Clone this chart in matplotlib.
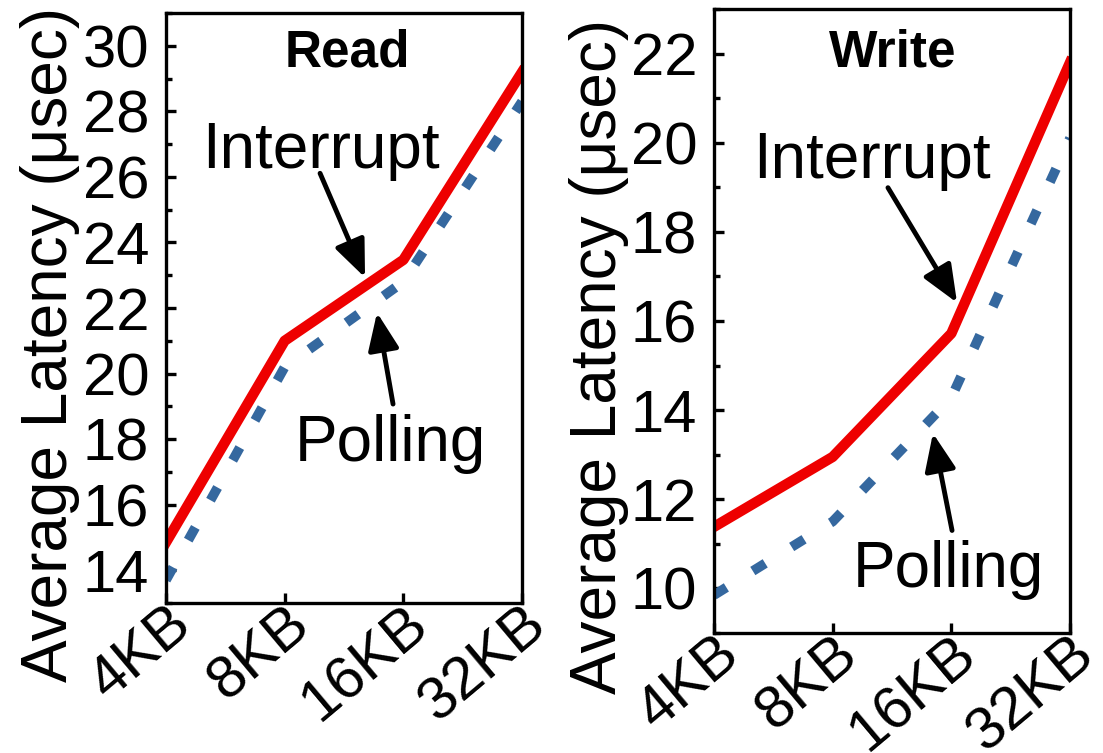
import matplotlib
matplotlib.use("Agg")
import matplotlib.pyplot as plt
from matplotlib.ticker import MultipleLocator

plt.rcParams['font.family'] = ['Liberation Sans', 'DejaVu Sans']

# data (usec)
sizes = ["4KB", "8KB", "16KB", "32KB"]
read_interrupt = [14.85, 21.0, 23.47, 29.2]
read_polling = [13.7, 20.2, 22.8, 28.3]
write_interrupt = [11.38, 12.95, 15.72, 21.8]
write_polling = [9.85, 11.5, 14.28, 20.1]

RED = "#ee0000"
BLUE = "#35689f"
LW = 7.5

fig = plt.figure(figsize=(11.03, 7.53), dpi=100)
ax_r = fig.add_axes([0.1505, 0.1992, 0.3228, 0.7835])
ax_w = fig.add_axes([0.6473, 0.1594, 0.3228, 0.8287])

x = list(range(len(sizes)))


def style_axes(ax, ylim, ymaj):
    ax.set_xlim(0, 3)
    ax.set_ylim(*ylim)
    ax.yaxis.set_major_locator(MultipleLocator(ymaj))
    ax.yaxis.set_minor_locator(MultipleLocator(1))
    ax.set_xticks(x)
    ax.set_xticklabels(sizes, rotation=40, ha="right", va="top",
                       rotation_mode="anchor")
    for s in ax.spines.values():
        s.set_linewidth(2.4)
    ax.tick_params(axis="both", which="both", direction="in",
                   top=False, right=False, width=2.4, labelsize=43)
    ax.tick_params(axis="y", which="major", length=7, pad=12)
    ax.tick_params(axis="y", which="minor", length=4)
    ax.tick_params(axis="x", which="major", length=7, pad=-5)


def draw(ax, intr, poll):
    ax.plot(x, poll, color=BLUE, lw=7, linestyle=(0, (1.5, 3.2)),
            dash_capstyle="butt")
    ax.plot(x, intr, color=RED, lw=LW)


arrow = dict(arrowstyle="-|>,head_length=0.6,head_width=0.25",
             color="black", lw=3.5, mutation_scale=38,
             shrinkA=0, shrinkB=0)

# Read panel
draw(ax_r, read_interrupt, read_polling)
style_axes(ax_r, (13, 31), 2)
ax_r.text(0.51, 0.909, "Read", transform=ax_r.transAxes, ha="center",
          va="baseline", fontsize=37, fontweight="bold")
ax_r.text(1.306, 26.27, "Interrupt", ha="center", va="baseline", fontsize=46)
ax_r.annotate("", xy=(1.677, 22.93), xytext=(1.298, 26.11), arrowprops=arrow)
ax_r.text(1.888, 17.34, "Polling", ha="center", va="baseline", fontsize=46)
ax_r.annotate("", xy=(1.778, 21.86), xytext=(1.913, 19.07), arrowprops=arrow)

# Write panel
draw(ax_w, write_interrupt, write_polling)
style_axes(ax_w, (9, 23), 2)
ax_w.text(0.503, 0.907, "Write", transform=ax_w.transAxes, ha="center",
          va="baseline", fontsize=37, fontweight="bold")
ax_w.text(1.331, 19.21, "Interrupt", ha="center", va="baseline", fontsize=46)
ax_w.annotate("", xy=(2.048, 16.41), xytext=(1.466, 18.99), arrowprops=arrow)
ax_w.text(1.972, 10.03, "Polling", ha="center", va="baseline", fontsize=46)
ax_w.annotate("", xy=(1.845, 13.48), xytext=(2.006, 11.30), arrowprops=arrow)

fig.text(0.045, 0.542, "Average Latency (\u03bcsec)", rotation=90,
         ha="center", va="center", fontsize=46)
fig.text(0.543, 0.527, "Average Latency (\u03bcsec)", rotation=90,
         ha="center", va="center", fontsize=46)

fig.savefig("out.png", dpi=100)
